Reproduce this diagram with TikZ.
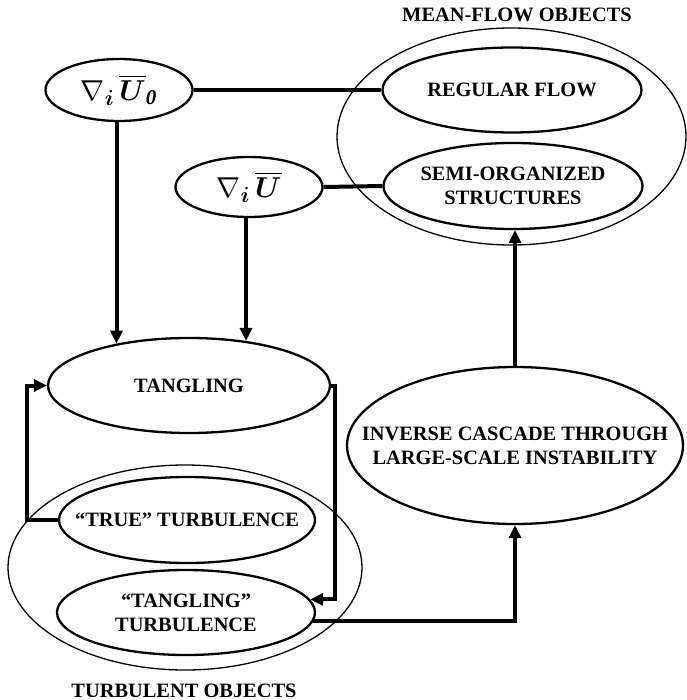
\documentclass[tikz,border=0pt]{standalone}
\usepackage{fontspec}
\setmainfont{Liberation Serif}
\usepackage{amsmath}
\usepackage{bm}
\usepackage{tikz}
\usetikzlibrary{positioning,shapes.geometric,arrows.meta}

\begin{document}
\begin{tikzpicture}[x=0.5pt, y=-0.5pt,
objtext/.style={align=center, inner sep=0pt, font=\bfseries\fontsize{10.2}{12}\selectfont},
objnode/.style={ellipse, draw=black, line width=1.15pt, inner sep=0pt, label={[objtext]center:#1}},
groupnode/.style={ellipse, draw=black, line width=0.65pt, inner sep=0pt},
gradnode/.style={ellipse, draw=black, line width=1.15pt, inner sep=0pt, font=\fontsize{15}{18}\selectfont},
titlenode/.style={anchor=base, inner sep=0pt, font=\bfseries\fontsize{10.2}{12}\selectfont},
link/.style={line width=2pt},
arrowlink/.style={line width=2pt, -{Triangle[length=6.5pt,width=6pt]}},
]
\useasboundingbox (0,0) rectangle (686,700);
%Groups
\node[groupnode, minimum width=174.5pt, minimum height=108.5pt] (MeanFlow) at (511.5,136.5) {};
\node[groupnode, minimum width=177pt, minimum height=102.5pt]   (Turbulent) at (185,567.5) {};
\node[titlenode] (MeanFlowTitle)  at (517,22)  {MEAN-FLOW OBJECTS};
\node[titlenode] (TurbulentTitle) at (184,697) {TURBULENT OBJECTS};

%Nodes
\node[gradnode, minimum width=73.5pt, minimum height=31pt] (GradUo) at (119,90)  {$\nabla_{\bm{i}}\,\overline{\bm{U}}_{\bm{\mathit{0}}}$};
\node[gradnode, minimum width=73.5pt, minimum height=30pt] (GradU)  at (249,187) {$\nabla_{\bm{i}}\,\overline{\bm{U}}$};
\node[objnode={REGULAR FLOW}, minimum width=129.5pt, minimum height=42.5pt]  (RegFlow)  at (512,90)  {};
\node[objnode={SEMI-ORGANIZED\\STRUCTURES}, minimum width=129.5pt, minimum height=43pt] (SemiOrg) at (513,186) {};
\node[objnode={TANGLING}, minimum width=141pt, minimum height=47.5pt]    (Tangling) at (189,385.5) {};
\node[objnode={``TRUE'' TURBULENCE}, minimum width=128pt, minimum height=43pt] (TrueTurb) at (187,520) {};
\node[objnode={``TANGLING''\\TURBULENCE}, minimum width=129pt, minimum height=42.5pt] (TangTurb) at (186,612.5) {};
\node[objnode={INVERSE CASCADE THROUGH\\LARGE-SCALE INSTABILITY}, minimum width=168pt, minimum height=78.5pt] (Inverse) at (515,445.5) {};

%Lines
\draw[link] (GradUo.east) -- (RegFlow.west);
\draw[link] (GradU.east) -- (SemiOrg.west);
\draw[arrowlink] (Tangling.150 |- GradUo.south) -- (Tangling.150);
\draw[arrowlink] (Tangling.38 |- GradU.south) -- (Tangling.38);
\draw[arrowlink] (Tangling.east) -- ++(4,0) |- (TangTurb.6);
\draw[arrowlink] (TrueTurb.west) -- ++(-31,0) |- (Tangling.west);
\draw[arrowlink] (TangTurb.-4) -| (Inverse.south);
\draw[arrowlink] (Inverse.north) -- (Inverse.north |- SemiOrg.south);
\end{tikzpicture}
\end{document}
